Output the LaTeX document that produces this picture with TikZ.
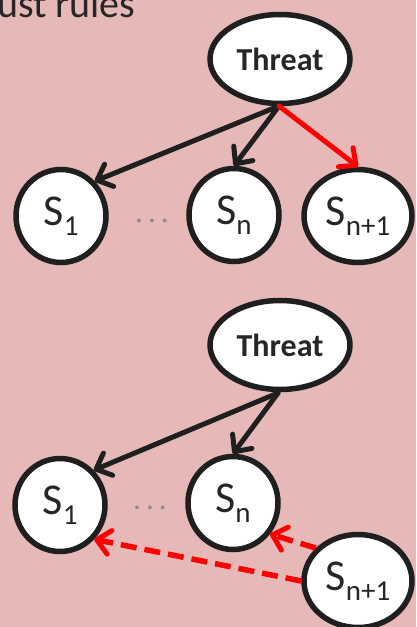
\documentclass[tikz,border=0pt]{standalone}
\usepackage{fontspec}
\setmainfont{Carlito}
\usetikzlibrary{arrows.meta,shapes.geometric}
\definecolor{bgpink}{HTML}{E6B9B8}
\definecolor{ink}{HTML}{1F1F1F}
\definecolor{txt}{HTML}{262626}
\definecolor{hot}{HTML}{FF0000}
\definecolor{dotgray}{HTML}{8C8C8C}
\newcommand\Slabel[1]{S\raisebox{-10pt}{\fontsize{29}{29}\selectfont #1}}
\tikzset{
  blob/.style={ellipse, draw=ink, line width=5.5pt, fill=white, inner sep=0pt,
    text=txt},
  threatnode/.style={blob, minimum width=140pt, minimum height=89pt,
    font=\fontsize{32}{32}\selectfont\bfseries},
  snode/.style={blob, minimum width=90pt, minimum height=93pt,
    font=\fontsize{44}{44}\selectfont},
  widenode/.style={blob, minimum width=108pt, minimum height=93pt,
    font=\fontsize{44}{44}\selectfont},
  tip/.style={-{Straight Barb[length=13pt,width=24pt,line width=5pt,round]}},
  blackarrow/.style={tip, draw=ink, line width=5pt, line cap=round},
  redarrow/.style={tip, draw=hot, line width=5pt, line cap=round},
  reddash/.style={tip, draw=hot, line width=5.5pt, dash pattern=on 16pt off 8pt},
  dotsnode/.style={font=\fontsize{27}{27}\selectfont, text=dotgray, inner sep=0pt, anchor=base},
}
\begin{document}
\begin{tikzpicture}[x=1pt,y=-1pt]
  \fill[bgpink] (0,0) rectangle (416,627);
  \useasboundingbox (0,0) rectangle (416,627);
  \clip (0,0) rectangle (416,627);

  % heading, cut off by the frame
  \node[anchor=base west, inner sep=0pt, text=txt, font=\fontsize{40}{40}\selectfont]
    (heading) at (-3,17) {ust rules};

  % upper graph: the threat points at a new state
  \node[threatnode] (t1) at (280,59) {Threat};
  \node[snode] (a1) at (61,216) {\Slabel{1}};
  \node[snode] (b1) at (234,215) {\Slabel{n}};
  \node[widenode] (c1) at (358,216) {\Slabel{n+1}};
  \node[dotsnode] (d1) at (152,228) {· · ·};
  \coordinate (t1out) at (279,106);
  \draw[blackarrow] (t1out) -- (a1.north east);
  \draw[blackarrow] (t1out) -- (b1.north);
  \draw[redarrow] (t1out) -- (c1.north);

  % lower graph: the new state points back at the others
  \node[threatnode] (t2) at (280,345) {Threat};
  \node[snode] (a2) at (60,505) {\Slabel{1}};
  \node[snode] (b2) at (233,503) {\Slabel{n}};
  \node[widenode] (c2) at (358,581) {\Slabel{n+1}};
  \node[dotsnode] (d2) at (150,515) {· · ·};
  \coordinate (t2out) at (278,393);
  \draw[blackarrow] (t2out) -- (a2.north east);
  \draw[blackarrow] (t2out) -- (b2.north);
  \draw[reddash] (c2.142) -- (b2.-40);
  \draw[reddash] (c2.west) -- (a2.-45);
\end{tikzpicture}
\end{document}
